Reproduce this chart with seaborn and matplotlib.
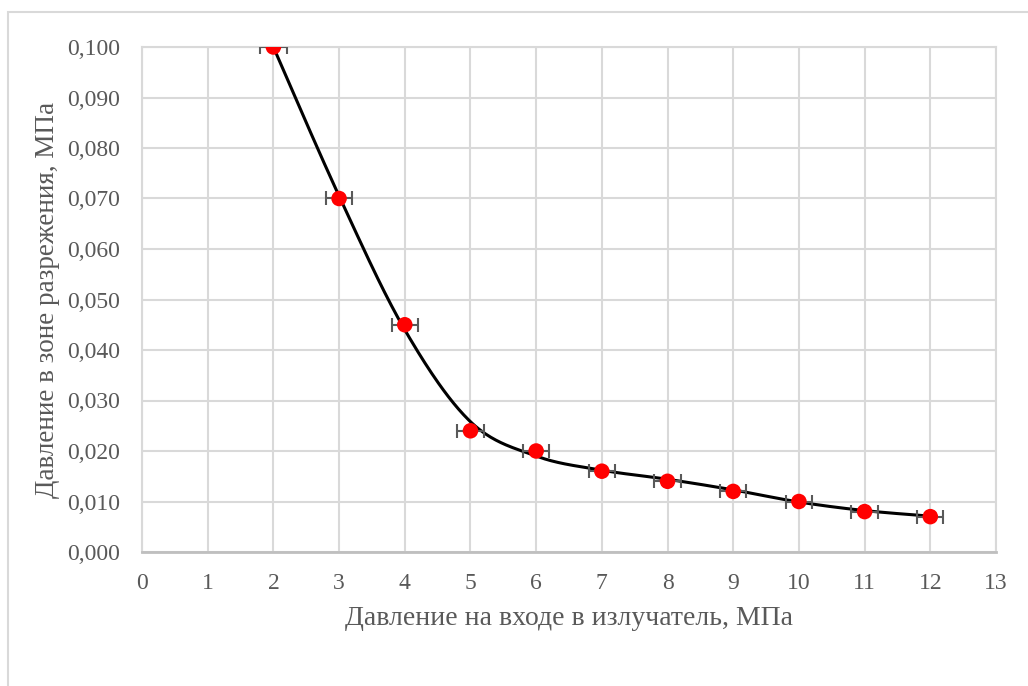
import numpy as np
import pandas as pd
import matplotlib
matplotlib.use("Agg")
import matplotlib.pyplot as plt
import seaborn as sns
from matplotlib.patches import Rectangle

# ---- data ----
x_vals = [2, 3, 4, 5, 6, 7, 8, 9, 10, 11, 12]
y_vals = [0.100, 0.070, 0.045, 0.024, 0.020, 0.016, 0.014, 0.012, 0.010, 0.008, 0.007]
x_err = [0.2] * len(x_vals)
# smoothed trend curve (separate series)
curve_x = [2, 3, 4, 5, 6, 7, 8, 9, 10, 11, 12]
curve_y = [0.100, 0.0705, 0.0440, 0.0258, 0.0190, 0.0162, 0.0144, 0.0123, 0.0099, 0.0082, 0.0071]
x_ticks = list(range(0, 14))
y_ticks = [0.0, 0.01, 0.02, 0.03, 0.04, 0.05, 0.06, 0.07, 0.08, 0.09, 0.10]
x_label = "Давление на входе в излучатель, МПа"
y_label = "Давление в зоне разрежения, МПа"

df = pd.DataFrame({"x": x_vals, "y": y_vals})

sns.set_theme(style="white")
plt.rcParams['font.family'] = ['Liberation Serif', 'DejaVu Serif']

W, H = 1028, 686
fig = plt.figure(figsize=(W / 100, H / 100), dpi=100)
ax = fig.add_axes([142 / W, 1 - 552 / H, (996 - 142) / W, (552 - 47) / H])

# outer chart border (cropped)
fig.patches.append(Rectangle((7.5 / W, -0.1), 1.2, 1 - 12.5 / H + 0.1,
                             transform=fig.transFigure, fill=False,
                             edgecolor="#d9d9d9", linewidth=1.5, zorder=0))


# Excel-like smoothed line (Catmull-Rom via Bezier)
def smooth(xs, ys, n=40):
    xs = np.asarray(xs, float)
    ys = np.asarray(ys, float)
    px = np.concatenate([[xs[0]], xs, [xs[-1]]])
    py = np.concatenate([[ys[0]], ys, [ys[-1]]])
    outx, outy = [], []
    t = np.linspace(0, 1, n)
    for i in range(1, len(px) - 2):
        p0 = np.array([px[i], py[i]])
        p3 = np.array([px[i + 1], py[i + 1]])
        p1 = p0 + (np.array([px[i + 1], py[i + 1]]) - np.array([px[i - 1], py[i - 1]])) / 6
        p2 = p3 - (np.array([px[i + 2], py[i + 2]]) - np.array([px[i], py[i]])) / 6
        b = ((1 - t) ** 3)[:, None] * p0 + (3 * (1 - t) ** 2 * t)[:, None] * p1 \
            + (3 * (1 - t) * t ** 2)[:, None] * p2 + (t ** 3)[:, None] * p3
        outx.extend(b[:, 0])
        outy.extend(b[:, 1])
    return np.array(outx), np.array(outy)


sx, sy = smooth(curve_x, curve_y)
sns.lineplot(x=sx, y=sy, ax=ax, color="black", linewidth=2.2, sort=False,
             estimator=None, zorder=3)

ax.errorbar(x_vals, y_vals, xerr=x_err, fmt="none", ecolor="#595959",
            elinewidth=1.5, capsize=5, capthick=1.5, zorder=4)
sns.scatterplot(data=df, x="x", y="y", ax=ax, color="#ff0000", s=125,
                edgecolor="none", zorder=5)

ax.set_xlim(0, 13)
ax.set_ylim(0, 0.1)
ax.set_xticks(x_ticks)
ax.set_yticks(y_ticks)
ax.set_xticklabels([str(v) for v in x_ticks])
ax.set_yticklabels([f"{v:.3f}".replace(".", ",") for v in y_ticks])
ax.grid(True, color="#d9d9d9", linewidth=1.5)
ax.set_axisbelow(True)
for side in ["top", "right", "left"]:
    ax.spines[side].set_color("#d9d9d9")
    ax.spines[side].set_linewidth(1.5)
ax.spines["bottom"].set_color("#bfbfbf")
ax.spines["bottom"].set_linewidth(2)
ax.tick_params(axis="both", length=0, labelsize=17, labelcolor="#595959")
ax.tick_params(axis="y", pad=16)
ax.tick_params(axis="x", pad=15)
ax.set_xlabel(x_label, fontsize=20, color="#595959", labelpad=9)
ax.set_ylabel(y_label, fontsize=19.5, color="#595959", labelpad=5)

fig.savefig("out.png", dpi=100)
